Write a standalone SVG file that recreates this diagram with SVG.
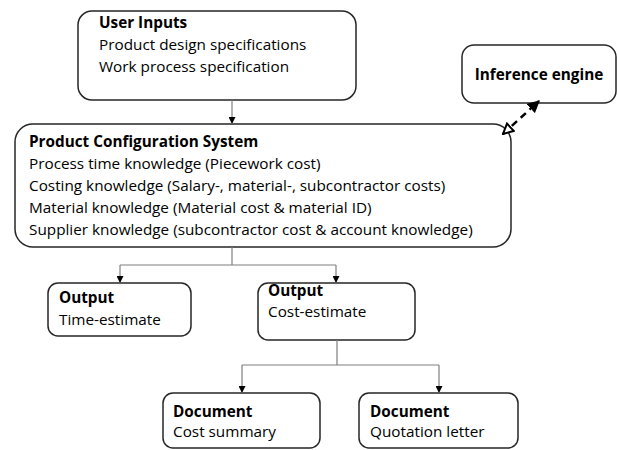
<svg xmlns="http://www.w3.org/2000/svg" width="617" height="450" viewBox="0 0 617 450">
<style>
.box{fill:#fff;stroke:#262626;stroke-width:1.5}
.t{font-family:"Open Sans","Liberation Sans",Arial,sans-serif;font-size:15.3px;fill:#000}
.b{font-weight:bold}
.c{fill:none;stroke:#7f7f7f;stroke-width:1.2}
.d{fill:none;stroke:#000;stroke-width:2.5;stroke-dasharray:7,5}
</style>
<defs>
<marker id="ah" viewBox="0 0 10 10" refX="10" refY="5" markerWidth="7" markerHeight="7" markerUnits="userSpaceOnUse" orient="auto"><path d="M0,0 L10,5 L0,10 z" fill="#000"/></marker>
<marker id="fill" viewBox="0 0 10 10" refX="9" refY="5" markerWidth="5" markerHeight="5" orient="auto"><path d="M0,0 L10,5 L0,10 z" fill="#000"/></marker>
<marker id="open" viewBox="0 0 10 10" refX="9" refY="5" markerWidth="5" markerHeight="5" orient="auto-start-reverse"><path d="M1,1 L9,5 L1,9 z" fill="#fff" stroke="#000" stroke-width="1.6"/></marker>
</defs>
<g id="user-inputs">
<rect class="box" x="78" y="11" width="278" height="89" rx="14"/>
<text class="t b" x="99" y="28">User Inputs</text>
<text class="t" x="99" y="50">Product design specifications</text>
<text class="t" x="99" y="72">Work process specification</text>
</g>
<g id="inference-engine">
<rect class="box" x="462" y="45" width="154" height="58" rx="12"/>
<text class="t b" x="539" y="80" text-anchor="middle">Inference engine</text>
</g>
<g id="product-configuration-system">
<rect class="box" x="15" y="124" width="496" height="123" rx="18"/>
<text class="t b" x="29" y="147">Product Configuration System</text>
<text class="t" x="29" y="169">Process time knowledge (Piecework cost)</text>
<text class="t" x="29" y="191">Costing knowledge (Salary-, material-, subcontractor costs)</text>
<text class="t" x="29" y="213">Material knowledge (Material cost &amp; material ID)</text>
<text class="t" x="29" y="235">Supplier knowledge (subcontractor cost &amp; account knowledge)</text>
</g>
<g id="output-time">
<rect class="box" x="48" y="283" width="143" height="53" rx="10"/>
<text class="t b" x="59" y="303">Output</text>
<text class="t" x="59" y="325">Time-estimate</text>
</g>
<g id="output-cost">
<rect class="box" x="258" y="283" width="157" height="57" rx="10"/>
<text class="t b" x="268" y="296">Output</text>
<text class="t" x="268" y="317">Cost-estimate</text>
</g>
<g id="document-cost-summary">
<rect class="box" x="163" y="393" width="157" height="55" rx="10"/>
<text class="t b" x="173" y="417">Document</text>
<text class="t" x="173" y="437">Cost summary</text>
</g>
<g id="document-quotation">
<rect class="box" x="359" y="393" width="159" height="55" rx="10"/>
<text class="t b" x="370" y="417">Document</text>
<text class="t" x="370" y="437">Quotation letter</text>
</g>
<g id="connectors">
<path class="c" d="M232,100 V124" marker-end="url(#ah)"/>
<path class="c" d="M232,247 V265 M120,265 H336"/>
<path class="c" d="M120,265 V283" marker-end="url(#ah)"/>
<path class="c" d="M336,265 V283" marker-end="url(#ah)"/>
<path class="c" d="M337,340 V365 M242,365 H439"/>
<path class="c" d="M242,365 V393" marker-end="url(#ah)"/>
<path class="c" d="M439,365 V393" marker-end="url(#ah)"/>
<path class="d" d="M503,134 L539,101" marker-start="url(#open)" marker-end="url(#fill)"/>
</g>
</svg>
